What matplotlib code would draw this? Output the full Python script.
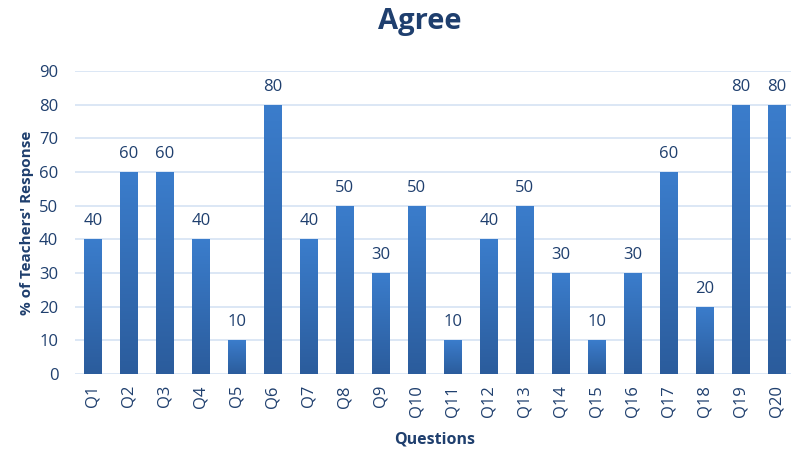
import numpy as np
import matplotlib
matplotlib.use('Agg')
import matplotlib.pyplot as plt
from matplotlib.colors import LinearSegmentedColormap

questions = ['Q%d' % i for i in range(1, 21)]
agree = [40, 60, 60, 40, 10, 80, 40, 50, 30, 50,
         10, 40, 50, 30, 10, 30, 60, 20, 80, 80]
yticks = [0, 10, 20, 30, 40, 50, 60, 70, 80, 90]

NAVY = '#1f3f6e'
plt.rcParams['font.family'] = ['Open Sans', 'DejaVu Sans']

fig = plt.figure(figsize=(7.91, 4.58), dpi=100)
ax = fig.add_axes([75 / 791, 84 / 458, 720 / 791, 303 / 458])

x = np.arange(len(questions))
bars = ax.bar(x, agree, width=0.5, color='none', zorder=3)

# vertical gradient inside each bar, light on top, dark at bottom
cmap = LinearSegmentedColormap.from_list('bar', ['#2b5c9c', '#3b7dcc'])
grad = np.linspace(0, 1, 256).reshape(-1, 1)
for b in bars:
    x0, y0 = b.get_x(), b.get_y()
    w, h = b.get_width(), b.get_height()
    im = ax.imshow(grad, cmap=cmap, origin='lower', aspect='auto',
                   extent=(x0, x0 + w, y0, y0 + h), zorder=3)
    im.set_clip_path(b)

for xi, v in zip(x, agree):
    ax.text(xi, v + 3, str(v), ha='center', va='bottom',
            fontsize=12, color=NAVY, zorder=4)

ax.set_xlim(-0.5, len(questions) - 0.5)
ax.set_ylim(0, 90)
ax.set_yticks(yticks)
ax.set_xticks(x)
ax.set_xticklabels(questions, rotation=90, fontsize=12, color=NAVY)
ax.tick_params(axis='y', labelsize=12, labelcolor=NAVY, length=0, pad=12)
ax.tick_params(axis='x', length=0, pad=8)
ax.grid(axis='y', color='#d6e3f3', linewidth=1.2, zorder=0)
ax.set_axisbelow(True)
for s in ax.spines.values():
    s.set_visible(False)

ax.set_ylabel("% of Teachers' Response", fontsize=11, fontweight='bold',
              color=NAVY, labelpad=4)
ax.set_xlabel('Questions', fontsize=11.5, fontweight='bold', color=NAVY,
              labelpad=10)
fig.text(420 / 791, 1 - 22 / 458, 'Agree', ha='center', va='center',
         fontsize=21, fontweight='bold', color=NAVY)

fig.savefig('out.png', dpi=100)
